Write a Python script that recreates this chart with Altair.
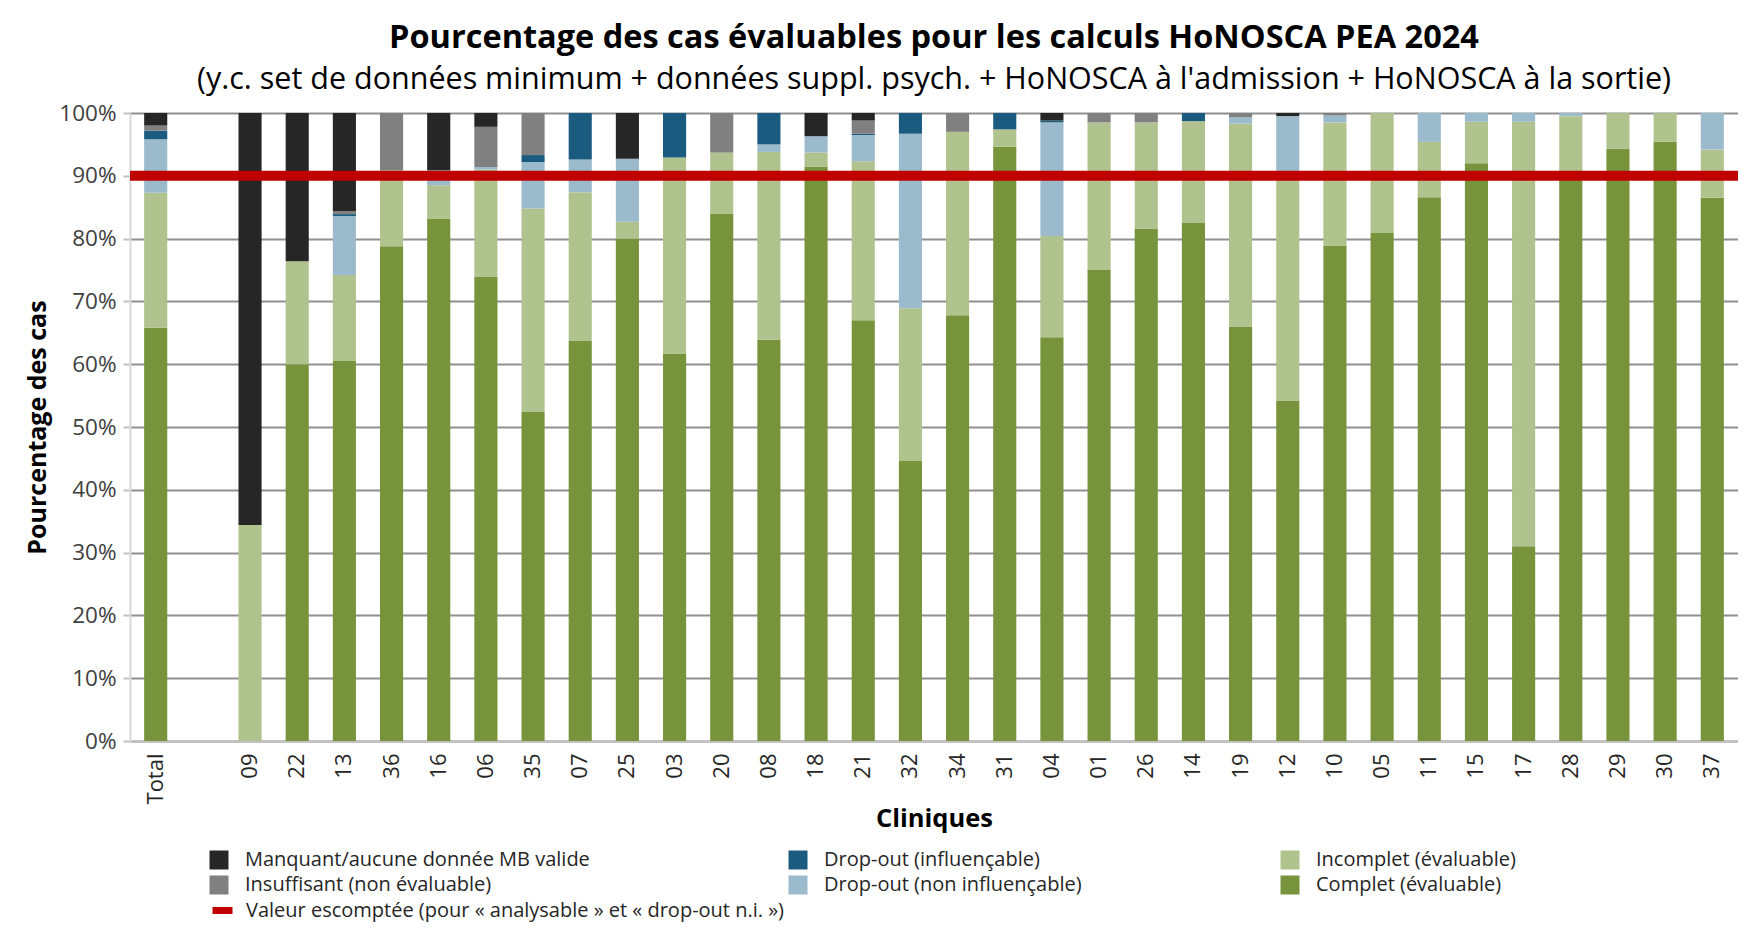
import altair as alt
import pandas as pd

FONT = "Open Sans"

cliniques = ["Total", " ", "09", "22", "13", "36", "16", "06", "35", "07", "25", "03", "20", "08",
             "18", "21", "32", "34", "31", "04", "01", "26", "14", "19", "12", "10", "05", "11",
             "15", "17", "28", "29", "30", "37"]

# values per clinic (same order as cliniques; the blank slot has no data)
complet =      [65.8, None, 0.0, 60.0, 60.5, 78.8, 83.2, 73.9, 52.4, 63.7, 80.0, 61.7, 84.0, 63.9,
                91.5, 67.0, 44.6, 67.8, 94.6, 64.3, 75.0, 81.6, 82.5, 66.0, 54.2, 78.9, 80.9, 86.6,
                92.0, 31.0, 89.5, 94.3, 95.4, 86.5]
incomplet =    [21.5, None, 34.4, 16.4, 13.7, 12.1, 5.3, 17.1, 32.4, 23.7, 2.7, 31.2, 9.7, 29.9,
                2.2, 25.3, 24.3, 29.2, 2.8, 16.1, 23.5, 16.9, 16.2, 32.3, 35.8, 19.6, 19.1, 8.8,
                6.6, 67.6, 10.0, 5.7, 4.6, 7.7]
dropout_ni =   [8.5, None, 0.0, 0.0, 9.4, 0.0, 2.4, 0.4, 7.4, 5.2, 10.0, 0.0, 0.0, 1.2,
                2.6, 4.2, 27.8, 0.0, 0.0, 18.1, 0.0, 0.0, 0.0, 1.0, 9.5, 1.1, 0.0, 4.6,
                1.4, 1.4, 0.5, 0.0, 0.0, 5.8]
dropout_inf =  [1.4, None, 0.0, 0.0, 0.3, 0.0, 0.0, 0.0, 1.1, 7.4, 0.0, 7.1, 0.0, 5.0,
                0.0, 0.2, 3.3, 0.0, 2.6, 0.3, 0.0, 0.0, 1.3, 0.0, 0.0, 0.0, 0.0, 0.0,
                0.0, 0.0, 0.0, 0.0, 0.0, 0.0]
insuffisant =  [0.8, None, 0.0, 0.0, 0.5, 9.1, 0.0, 6.4, 6.7, 0.0, 0.0, 0.0, 6.3, 0.0,
                0.0, 2.1, 0.0, 3.0, 0.0, 0.0, 1.5, 1.5, 0.0, 0.7, 0.0, 0.4, 0.0, 0.0,
                0.0, 0.0, 0.0, 0.0, 0.0, 0.0]
manquant =     [2.0, None, 65.6, 23.6, 15.6, 0.0, 9.1, 2.2, 0.0, 0.0, 7.3, 0.0, 0.0, 0.0,
                3.7, 1.2, 0.0, 0.0, 0.0, 1.2, 0.0, 0.0, 0.0, 0.0, 0.5, 0.0, 0.0, 0.0,
                0.0, 0.0, 0.0, 0.0, 0.0, 0.0]

valeur_escomptee = 90

# series names (stack order bottom -> top)
s_complet = "Complet (évaluable)"
s_incomplet = "Incomplet (évaluable)"
s_dni = "Drop-out (non influençable)"
s_dinf = "Drop-out (influençable)"
s_insuf = "Insuffisant (non évaluable)"
s_manq = "Manquant/aucune donnée MB valide"
s_rule = "Valeur escomptée (pour « analysable » et « drop-out n.i. »)"

series = [(s_complet, complet), (s_incomplet, incomplet), (s_dni, dropout_ni),
          (s_dinf, dropout_inf), (s_insuf, insuffisant), (s_manq, manquant)]

# legend order (column-major in 3 columns of 2 rows) and colours
legend_order = [s_manq, s_insuf, s_dinf, s_dni, s_incomplet, s_complet]
legend_colors = ["#262626", "#808080", "#1b5b80", "#9bbbcc", "#b0c28e", "#77933c"]

rows = []
for rank, (name, vals) in enumerate(series):
    for c, v in zip(cliniques, vals):
        if v is None:
            continue
        rows.append({"clinique": c, "categorie": name, "valeur": v, "rang": rank})
df = pd.DataFrame(rows)

rule_df = pd.DataFrame({"valeur": [valeur_escomptee], "lab": [s_rule]})

bars = alt.Chart(df).mark_bar().encode(
    x=alt.X("clinique:N",
            scale=alt.Scale(domain=cliniques, paddingInner=0.51, paddingOuter=0.3),
            axis=alt.Axis(title="Cliniques", labelAngle=-90, ticks=False,
                          labelFontSize=22, labelColor="#262626", labelFont=FONT,
                          labelPadding=12, domainColor="#c0c0c0", domainWidth=2,
                          titleFontSize=25.5, titleFont=FONT, titleFontWeight="bold",
                          titleColor="#000000", titlePadding=3)),
    y=alt.Y("valeur:Q", stack="zero",
            scale=alt.Scale(domain=[0, 100], nice=False),
            axis=alt.Axis(title="Pourcentage des cas", values=list(range(0, 101, 10)),
                          labelExpr="datum.value + '%'", labelFontSize=22.5,
                          labelColor="#404040", labelFont=FONT, labelPadding=7,
                          tickSize=7, tickColor="#c0c0c0", tickWidth=2,
                          domainColor="#d9d9d9", domainWidth=2,
                          grid=True, gridColor="#909090", gridWidth=2,
                          titleFontSize=25, titleFont=FONT, titleFontWeight="bold",
                          titleColor="#000000", titlePadding=8)),
    fill=alt.Fill("categorie:N",
                  scale=alt.Scale(domain=legend_order, range=legend_colors),
                  legend=alt.Legend(title=None, orient="none", legendX=79, legendY=737,
                                    columns=3, columnPadding=198, rowPadding=5,
                                    symbolType="square", symbolSize=361,
                                    symbolStrokeWidth=0, labelFontSize=20,
                                    labelFont=FONT, labelColor="#262626",
                                    labelOffset=16, labelLimit=700, padding=0)),
    order=alt.Order("rang:Q", sort="ascending"),
)

rule = alt.Chart(rule_df).mark_rule(strokeWidth=10).encode(
    y=alt.Y("valeur:Q"),
    stroke=alt.Stroke("lab:N", scale=alt.Scale(domain=[s_rule], range=["#c00000"]),
                      legend=alt.Legend(title=None, orient="none", legendX=79, legendY=784,
                                        symbolType="stroke", symbolSize=400,
                                        symbolStrokeWidth=7, labelFontSize=20,
                                        labelFont=FONT, labelColor="#262626",
                                        labelOffset=10, labelLimit=900, padding=0)),
)

chart = alt.layer(bars, rule).properties(
    width=1608,
    height=628,
    autosize=alt.AutoSizeParams(type="none"),
    padding={"left": 122, "top": 105, "right": 0, "bottom": 190},
    title=alt.Title(
        text="Pourcentage des cas évaluables pour les calculs HoNOSCA PEA 2024",
        subtitle="(y.c. set de données minimum + données suppl. psych. + HoNOSCA à l'admission + HoNOSCA à la sortie)",
        font=FONT, fontSize=32.5, fontWeight="bold", color="#000000",
        subtitleFont=FONT, subtitleFontSize=30.5, subtitleColor="#000000",
        anchor="middle", offset=7, subtitlePadding=10,
    ),
).configure_view(stroke=None).configure(background="white")

chart.save("out.html", embed_options={"renderer": "svg", "actions": False})
